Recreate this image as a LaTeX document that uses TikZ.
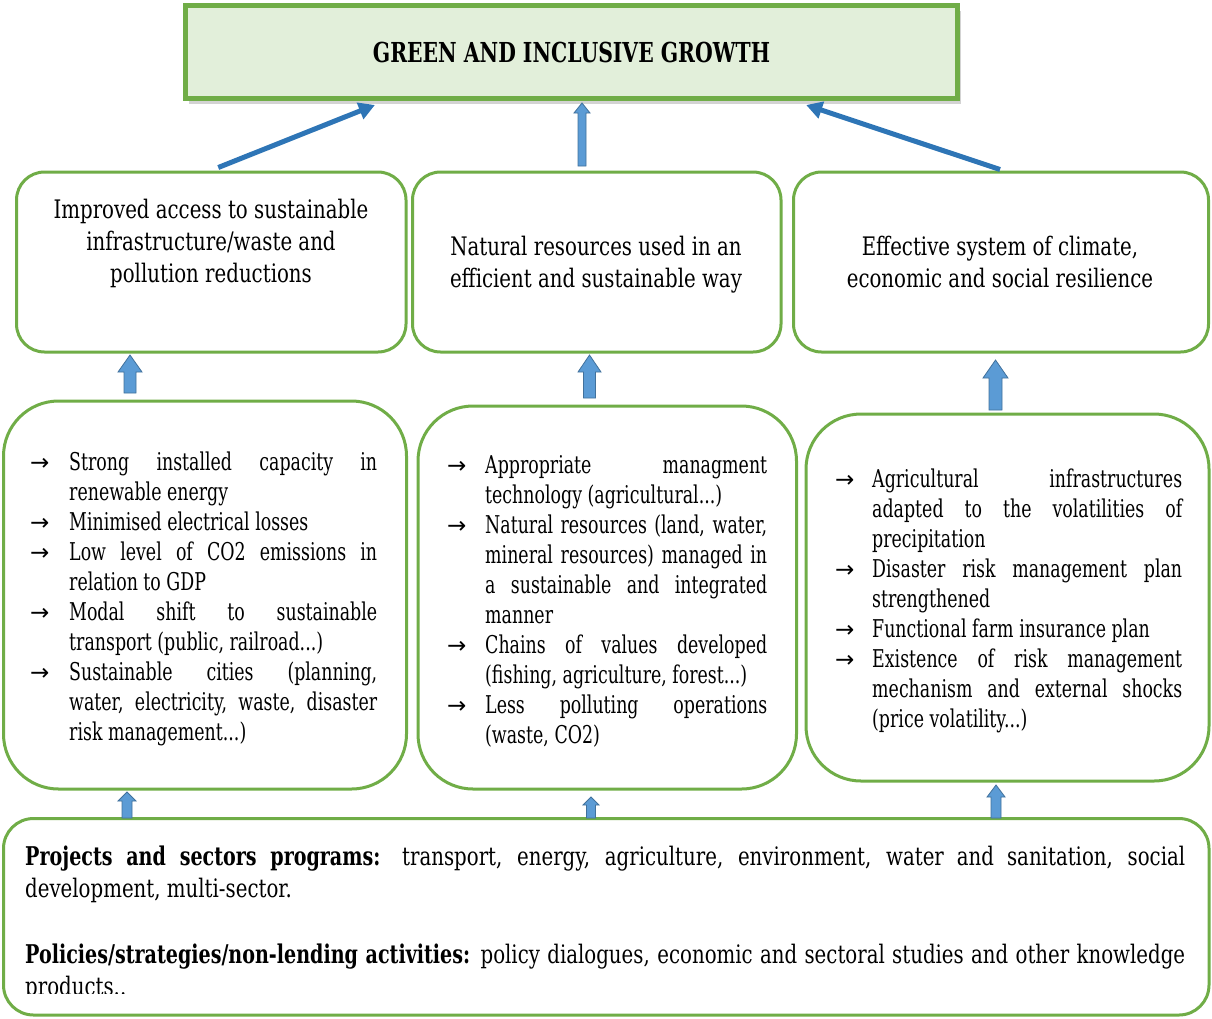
\documentclass[tikz,border=0pt]{standalone}
\usepackage{fontspec}
\setmainfont{DejaVu Serif}[FakeStretch=0.74]
\newfontfamily\bodyfam{DejaVu Serif}[FakeStretch=0.775]
\newfontfamily\listfam{DejaVu Serif}[FakeStretch=0.71]
\newfontfamily\arrowfam{DejaVu Sans}
\usetikzlibrary{arrows.meta,calc,shadows}

\definecolor{grn}{HTML}{70AD47}
\definecolor{pale}{HTML}{E2EFDA}
\definecolor{arrblue}{HTML}{2E75B6}
\definecolor{blkfill}{HTML}{5B9BD5}
\definecolor{blkline}{HTML}{41719C}

% list items introduced by a small arrow, hanging indent for continuation lines
\newlength\itemhang
\newcommand\arw{{\arrowfam\fontsize{23}{23}\selectfont →}}
\newcommand\itm[1]{\par\noindent\hangindent=\itemhang\hangafter=1\makebox[\itemhang][l]{\arw}#1}
\newcommand\listfont{\listfam\fontsize{24.5}{30.1}\selectfont\hyphenpenalty=10000\tolerance=10000\parindent=0pt\parskip=0pt}
\newcommand\bodyfont{\bodyfam\fontsize{25.5}{32}\selectfont}
\newcommand\lead[1]{{\normalfont\fontsize{25.8}{32}\selectfont\bfseries #1}}

% upward block arrow: x, y bottom, y tip, shaft half width, head half width, head length
\newcommand\uparr[6]{%
  \path[blockarrow] (#1-#4,#2) -- (#1-#4,#3+#6) -- (#1-#5,#3+#6) -- (#1,#3)
    -- (#1+#5,#3+#6) -- (#1+#4,#3+#6) -- (#1+#4,#2) -- cycle;}

\begin{document}
\begin{tikzpicture}[x=1pt,y=-1pt,
  goal/.style={draw=grn, line width=5pt, fill=pale, inner sep=0pt,
    drop shadow={shadow xshift=3pt, shadow yshift=-5pt, opacity=0.35}},
  outcome/.style={draw=grn, line width=3pt, fill=white, rounded corners=28pt, inner sep=0pt},
  result/.style={draw=grn, line width=3pt, fill=white, rounded corners=55pt, inner sep=0pt},
  base/.style={draw=grn, line width=3pt, fill=white, rounded corners=30pt, inner sep=0pt},
  txt/.style={inner sep=0pt, text=black},
  diag/.style={draw=arrblue, line width=5pt, -{Triangle[length=16pt,width=17pt]}},
  blockarrow/.style={fill=blkfill, draw=blkline, line width=0.8pt}]

\useasboundingbox (0,0) rectangle (1212,1018);

% top goal
\node[goal, minimum width=772pt, minimum height=93pt] (top) at (571.5,52) {};
\node[txt, font=\bfseries\fontsize{27.5}{27.5}\selectfont] (toptxt) at (571.5,52) {GREEN AND INCLUSIVE GROWTH};

% outcomes
\node[outcome, minimum width=389.5pt, minimum height=180pt] (A) at (211.25,262) {};
\node[outcome, minimum width=368.5pt, minimum height=180pt] (B) at (596.75,262) {};
\node[outcome, minimum width=415pt, minimum height=180pt] (C) at (1001,262) {};

\node[txt, anchor=base] (tA) at (211,218) {\parbox[t]{380pt}{\centering\bodyfont
  Improved access to sustainable\\infrastructure/waste and\\pollution reductions}};
\node[txt, anchor=base] (tB) at (596,255) {\parbox[t]{360pt}{\centering\bodyfont
  Natural resources used in an\\efficient and sustainable way}};
\node[txt, anchor=base] (tC) at (1000,255) {\parbox[t]{400pt}{\centering\bodyfont
  Effective system of climate,\\economic and social resilience}};

% results
\node[result, minimum width=403pt, minimum height=388pt] (D) at (205,595) {};
\node[result, minimum width=378.5pt, minimum height=383pt] (E) at (607.25,597.5) {};
\node[result, minimum width=403pt, minimum height=367pt] (F) at (1007.5,597.5) {};

\setlength\itemhang{39pt}
\node[txt, anchor=base west] (tD) at (30,470) {\parbox[t]{347pt}{\listfont
  \itm{Strong installed capacity in\linebreak renewable energy}
  \itm{Minimised electrical losses}
  \itm{Low level of CO2 emissions in\linebreak relation to GDP}
  \itm{Modal shift to sustainable\linebreak transport (public, railroad...)}
  \itm{Sustainable cities (planning,\linebreak water, electricity, waste, disaster\linebreak risk management...)}}};

\setlength\itemhang{38pt}
\node[txt, anchor=base west] (tE) at (447,473) {\parbox[t]{320pt}{\listfont
  \itm{Appropriate managment\linebreak technology (agricultural...)}
  \itm{Natural resources (land, water,\linebreak mineral resources) managed in\linebreak a sustainable and integrated\linebreak manner}
  \itm{Chains of values developed\linebreak (fishing, agriculture, forest...)}
  \itm{Less polluting operations\linebreak (waste, CO2)}}};

\setlength\itemhang{37pt}
\node[txt, anchor=base west] (tF) at (835,487) {\parbox[t]{347pt}{\listfont
  \itm{Agricultural infrastructures\linebreak adapted to the volatilities of\linebreak precipitation}
  \itm{Disaster risk management plan\linebreak strengthened}
  \itm{Functional farm insurance plan}
  \itm{Existence of risk management\linebreak mechanism and external shocks\linebreak (price volatility...)}}};

% programmes and activities
\node[base, minimum width=1205.5pt, minimum height=196.5pt] (G) at (606.25,916.75) {};
\begin{scope}
  \clip (0,0) rectangle (1212,993);
  \node[txt, anchor=base west] (tG) at (25,865) {\parbox[t]{1160pt}{\bodyfont
    \hyphenpenalty=10000\tolerance=10000\parindent=0pt
    \lead{Projects and sectors programs:} transport, energy, agriculture, environment, water and sanitation, social\linebreak development, multi-sector.\par\vspace{34pt}
    \lead{Policies/strategies/non-lending activities:} policy dialogues, economic and sectoral studies and other knowledge\linebreak products..}};
\end{scope}

% links to the goal
\coordinate (tipL) at ($(top.south west)!0.247!(top.south east)+(0,4)$);
\coordinate (tipR) at ($(top.south west)!0.802!(top.south east)+(0,4)$);
\draw[diag] ($(A.north)+(7,-3)$) -- (tipL);
\draw[diag] ($(C.north)+(-1,-1)$) -- (tipR);
\uparr{582}{166}{103}{4}{8}{10}

% results to outcomes
\uparr{130}{393}{355}{6}{12}{17}
\uparr{589.5}{398}{355}{6}{11.5}{17}
\uparr{995.5}{410}{360}{6.5}{12.5}{18}

% programmes to results
\uparr{127}{818}{792}{5}{9}{9}
\uparr{591}{818}{797}{4.5}{8}{8}
\uparr{996}{818}{785}{5}{9}{12}

\end{tikzpicture}
\end{document}
